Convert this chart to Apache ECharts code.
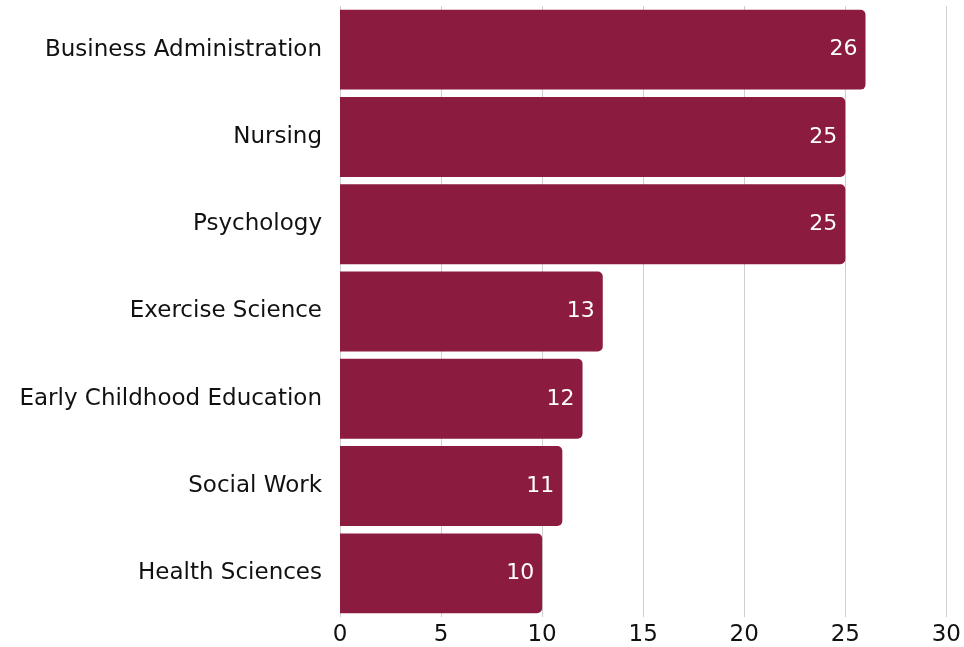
<!DOCTYPE html>
<html>
<head>
<meta charset="utf-8">
<script src="https://cdn.jsdelivr.net/npm/echarts@6/dist/echarts.min.js"></script>
<style>
  html, body { margin: 0; padding: 0; background: #fff; }
  #chart { width: 964px; height: 647px; }
</style>
</head>
<body>
<div id="chart"></div>
<script>
// majors, listed top to bottom as drawn
const majors = [
  "Business Administration",
  "Nursing",
  "Psychology",
  "Exercise Science",
  "Early Childhood Education",
  "Social Work",
  "Health Sciences"
];
const counts = [26, 25, 25, 13, 12, 11, 10];

const chart = echarts.init(document.getElementById("chart"));

const option = {
  animation: false,
  grid: {
    left: 340,
    right: 17,
    top: 6,
    bottom: 29,
    containLabel: false
  },
  xAxis: {
    type: "value",
    min: 0,
    max: 30,
    interval: 5,
    axisLine: { show: false },
    axisTick: { show: false },
    axisLabel: {
      color: "#111",
      fontSize: 23,
      fontFamily: "DejaVu Sans",
      margin: 7
    },
    splitLine: { lineStyle: { color: "#cfcfcf", width: 1 } }
  },
  yAxis: {
    type: "category",
    data: majors,
    inverse: true,
    axisLine: { show: false },
    axisTick: { show: false },
    axisLabel: {
      color: "#111",
      fontSize: 23,
      fontFamily: "DejaVu Sans",
      margin: 18
    }
  },
  series: [
    {
      type: "bar",
      data: counts,
      barCategoryGap: "8.4%",
      itemStyle: {
        color: "#8b1b3f",
        borderRadius: [0, 5, 5, 0]
      },
      label: {
        show: true,
        position: "insideRight",
        distance: 8,
        color: "#fff",
        fontSize: 22,
        fontFamily: "DejaVu Sans"
      }
    }
  ]
};

chart.setOption(option);
</script>
</body>
</html>
